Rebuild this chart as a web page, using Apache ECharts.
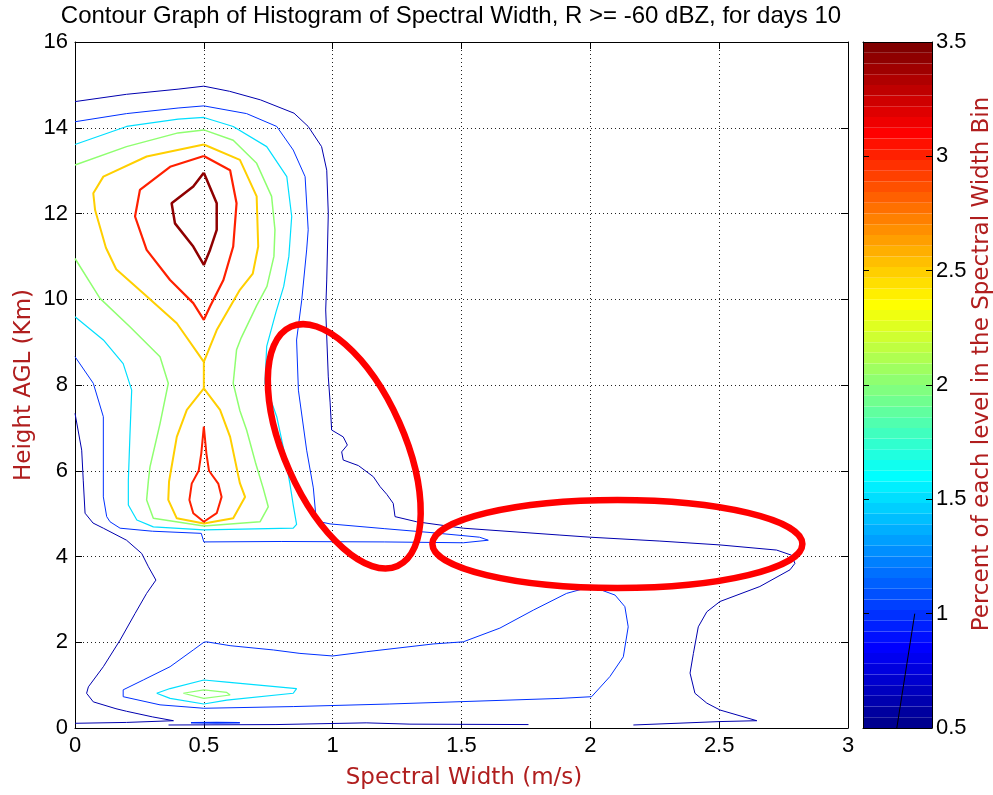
<!DOCTYPE html>
<html>
<head>
<meta charset="utf-8">
<script src="https://cdn.jsdelivr.net/npm/echarts@6/dist/echarts.min.js"></script>
<style>
  html, body { margin: 0; padding: 0; background: #ffffff; }
  #chart { width: 993px; height: 795px; }
</style>
</head>
<body>
<div id="chart"></div>
<script>
// Axis tick labels
const xTickLabels = ['0', '0.5', '1', '1.5', '2', '2.5', '3'];
const yTickLabels = ['0', '2', '4', '6', '8', '10', '12', '14', '16'];
const barTickLabels = ['0.5', '1', '1.5', '2', '2.5', '3', '3.5'];

// Contour levels (percent) drawn by the curves below
const contourLevels = [0.6, 1.0, 1.5, 2.0, 2.5, 3.0, 3.45];

// Contour paths as [spectral width (m/s), height (km)]
const navyUpper = [[0,14.61],[0.2,14.78],[0.4,14.9],[0.5,14.97],[0.6,14.85],[0.72,14.65],[0.85,14.34],[0.905,14.03],[0.957,13.56],[0.977,13.01],[0.983,12.0],[0.977,10.45],[0.973,9.75],[0.983,8.19],[0.99,7.6],[0.996,6.95],[1.003,6.91],[1.041,6.79],[1.057,6.6],[1.035,6.44],[1.041,6.25],[1.10,6.12],[1.158,5.86],[1.184,5.63],[1.21,5.45],[1.235,5.24],[1.242,4.93],[1.326,4.81],[1.507,4.66],[1.882,4.50],[2.0,4.45],[2.27,4.36],[2.503,4.27],[2.723,4.15],[2.781,4.03],[2.794,3.84],[2.775,3.69],[2.658,3.30],[2.503,2.95],[2.452,2.71],[2.419,2.36],[2.40,1.74],[2.387,1.28],[2.406,0.81],[2.452,0.58],[2.503,0.42],[2.646,0.17],[2.503,0.15],[2.167,0.07]];
const navyLower = [[0,7.34],[0.026,6.48],[0.032,5.78],[0.039,5.01],[0.07,4.78],[0.11,4.66],[0.20,4.38],[0.259,4.07],[0.285,3.76],[0.314,3.45],[0.278,3.14],[0.233,2.67],[0.175,2.05],[0.11,1.43],[0.052,0.96],[0.045,0.81],[0.071,0.61],[0.159,0.45],[0.20,0.39],[0.30,0.26],[0.382,0.17],[0.2,0.13],[0,0.11]];
const navyBase = [[0.363,0.07],[0.78,0.08],[1.13,0.12],[1.3,0.09],[1.76,0.08]];

const blueUpper = [[0,14.14],[0.2,14.33],[0.4,14.46],[0.5,14.51],[0.666,14.33],[0.783,14.03],[0.847,13.48],[0.893,12.86],[0.905,11.62],[0.899,11.15],[0.88,9.98],[0.860,9.05],[0.867,7.88],[0.899,6.48],[0.925,5.6],[0.935,4.93],[0.951,4.81],[0.99,4.76],[1.2,4.65],[1.378,4.56],[1.57,4.45],[1.604,4.38],[1.507,4.32],[1.2,4.34],[0.8,4.35],[0.5,4.34],[0.49,4.54],[0.3,4.59],[0.175,4.66],[0.136,4.81],[0.123,4.93],[0.11,5.39],[0.11,7.26],[0.071,8.04],[0,8.66]];
const blueLower = [[0.5,2.0],[0.511,2.01],[0.602,1.92],[0.77,1.82],[0.873,1.74],[1.0,1.68],[1.132,1.78],[1.39,1.96],[1.507,2.01],[1.649,2.33],[1.779,2.75],[1.908,3.14],[2.005,3.30],[2.096,3.10],[2.134,2.83],[2.147,2.36],[2.128,1.66],[2.076,1.20],[2.005,0.73],[1.882,0.69],[1.222,0.56],[0.847,0.50],[0.5,0.46],[0.33,0.54],[0.187,0.73],[0.187,0.89],[0.265,1.12],[0.369,1.43],[0.459,1.82],[0.5,2.0]];
const blueSliver = [[0.45,0.12],[0.55,0.13],[0.64,0.12],[0.55,0.115],[0.45,0.12]];

const cyanUpper = [[0,13.61],[0.2,14.03],[0.4,14.2],[0.5,14.24],[0.614,14.03],[0.744,13.56],[0.822,12.86],[0.841,11.93],[0.83,11.0],[0.81,10.3],[0.78,9.7],[0.744,8.9],[0.737,8.04],[0.783,7.26],[0.81,6.5],[0.834,5.70],[0.847,5.2],[0.86,4.75],[0.847,4.66],[0.5,4.62],[0.304,4.69],[0.24,4.85],[0.207,5.2],[0.207,5.78],[0.213,6.79],[0.22,7.88],[0.187,8.50],[0.11,9.05],[0,9.59]];
const cyanLower = [[0.317,0.81],[0.369,0.92],[0.5,1.12],[0.589,1.07],[0.86,0.92],[0.847,0.81],[0.589,0.65],[0.5,0.56],[0.369,0.69],[0.317,0.81]];

const greenUpper = [[0,13.13],[0.2,13.56],[0.4,13.88],[0.5,13.95],[0.614,13.71],[0.705,13.17],[0.763,12.40],[0.776,11.62],[0.772,11.0],[0.745,10.3],[0.705,9.85],[0.645,9.1],[0.627,8.82],[0.614,8.04],[0.64,7.4],[0.666,6.95],[0.70,6.2],[0.73,5.6],[0.75,5.16],[0.718,4.81],[0.5,4.71],[0.304,4.89],[0.278,5.32],[0.285,5.78],[0.291,6.09],[0.33,7.10],[0.362,8.04],[0.33,8.66],[0.213,9.36],[0.097,10.02],[0,10.95]];
const greenLower = [[0.42,0.81],[0.5,0.89],[0.589,0.83],[0.602,0.77],[0.5,0.69],[0.42,0.81]];

const orangeLoops = [[0.5,13.61],[0.64,13.25],[0.705,12.40],[0.711,11.23],[0.69,10.6],[0.64,10.22],[0.55,9.28],[0.5,8.54],[0.5,7.92],[0.563,7.42],[0.602,6.79],[0.64,5.71],[0.66,5.39],[0.614,4.89],[0.5,4.77],[0.395,4.89],[0.362,5.32],[0.365,5.75],[0.395,6.79],[0.434,7.42],[0.5,7.92],[0.5,8.54],[0.395,9.44],[0.265,10.14],[0.16,10.7],[0.12,11.2],[0.078,12.08],[0.071,12.47],[0.11,12.86],[0.278,13.33],[0.5,13.61]];

const redUpper = [[0.5,13.34],[0.602,13.01],[0.627,12.24],[0.614,11.23],[0.576,10.45],[0.524,9.83],[0.5,9.52],[0.459,9.91],[0.369,10.45],[0.278,11.15],[0.233,11.93],[0.252,12.55],[0.369,13.09],[0.5,13.34]];
const redLower = [[0.5,7.03],[0.51,6.4],[0.52,6.0],[0.556,5.7],[0.569,5.39],[0.55,5.01],[0.5,4.81],[0.459,5.01],[0.444,5.32],[0.453,5.7],[0.48,6.0],[0.49,6.4],[0.5,7.03]];

const darkRedCore = [[0.5,12.95],[0.55,12.24],[0.55,11.62],[0.524,11.15],[0.5,10.8],[0.459,11.23],[0.388,11.77],[0.375,12.24],[0.459,12.63],[0.5,12.95]];

// Stray stroke inside the colour bar: [bar fraction, percent]
const colorbarStroke = [[0.75, 1.0], [0.49, 0.5]];

// Highlighted regions: centre in data units
const highlightCenters = [[1.045, 6.57], [2.105, 4.29]];

// ---------------------------------------------------------------
const num = a => a.map(Number);
const xT = num(xTickLabels), yT = num(yTickLabels), bT = num(barTickLabels);

// MATLAB-style jet colormap
function jetColors(m) {
  const n = Math.ceil(m / 4);
  const u = [];
  for (let i = 1; i <= n; i++) u.push(i / n);
  for (let i = 1; i < n; i++) u.push(1);
  for (let i = n; i >= 1; i--) u.push(i / n);
  const g0 = Math.ceil(n / 2) - (m % 4 === 1 ? 1 : 0);
  const rgb = Array.from({ length: m }, () => [0, 0, 0]);
  u.forEach((v, k) => {
    const g = g0 + k + 1, r = g + n, b = g - n;
    if (r >= 1 && r <= m) rgb[r - 1][0] = v;
    if (g >= 1 && g <= m) rgb[g - 1][1] = v;
    if (b >= 1 && b <= m) rgb[b - 1][2] = v;
  });
  return rgb.map(c => 'rgb(' + c.map(v => Math.round(v * 255)).join(',') + ')');
}
const JET = jetColors(64);
const bMin = bT[0], bMax = bT[bT.length - 1];
const levelColor = lv => JET[Math.min(63, Math.max(0, Math.floor((lv - bMin) / (bMax - bMin) * 64)))];

const contours = [
  { path: navyUpper, level: 0, w: 1 },
  { path: navyLower, level: 0, w: 1 },
  { path: navyBase, level: 0, w: 1 },
  { path: blueUpper, level: 1, w: 1 },
  { path: blueLower, level: 1, w: 1 },
  { path: blueSliver, level: 1, w: 1.5 },
  { path: cyanUpper, level: 2, w: 1.2 },
  { path: cyanLower, level: 2, w: 1.2 },
  { path: greenUpper, level: 3, w: 1.5 },
  { path: greenLower, level: 3, w: 1.2 },
  { path: orangeLoops, level: 4, w: 2 },
  { path: redUpper, level: 5, w: 2.2 },
  { path: redLower, level: 5, w: 2 },
  { path: darkRedCore, level: 6, w: 2.5 }
];

const FONT = 'Liberation Sans, Arial, sans-serif';
const LABEL_FONT = 'DejaVu Sans, Verdana, sans-serif';
const LABEL_COLOR = '#b01e1e';

const tickLabel = { color: '#000', fontFamily: FONT, fontSize: 22 };
const noOnZero = { show: true, onZero: false, lineStyle: { color: '#000', width: 1 } };
const gridDots = { show: true, lineStyle: { color: '#222', width: 1, type: [1, 3] } };

const series = contours.map(c => ({
  type: 'line',
  xAxisIndex: 0,
  yAxisIndex: 1,
  data: c.path,
  symbol: 'none',
  showSymbol: false,
  smooth: false,
  silent: true,
  clip: true,
  animation: false,
  lineStyle: { color: levelColor(contourLevels[c.level]), width: c.w },
  z: 3
}));
series.push({
  type: 'line',
  xAxisIndex: 2,
  yAxisIndex: 3,
  data: colorbarStroke,
  symbol: 'none',
  silent: true,
  animation: false,
  lineStyle: { color: '#000', width: 1 },
  z: 5
});

const option = {
  animation: false,
  backgroundColor: '#ffffff',
  grid: [
    { left: 75, top: 42, width: 773, height: 686, containLabel: false, outerBoundsMode: 'none' },
    { left: 863, top: 42, width: 69, height: 686, containLabel: false, outerBoundsMode: 'none' }
  ],
  xAxis: [
    { gridIndex: 0, type: 'value', position: 'bottom', min: xT[0], max: xT[xT.length - 1], interval: xT[1] - xT[0],
      axisLine: noOnZero, axisTick: { show: true, inside: true, length: 7, lineStyle: { color: '#000' } },
      axisLabel: Object.assign({ margin: 7, formatter: v => xTickLabels[xT.indexOf(v)] ?? '' }, tickLabel),
      splitLine: gridDots },
    { gridIndex: 0, type: 'value', position: 'top', min: xT[0], max: xT[xT.length - 1], interval: xT[1] - xT[0],
      axisLine: noOnZero, axisTick: { show: true, inside: true, length: 7, lineStyle: { color: '#000' } },
      axisLabel: { show: false }, splitLine: { show: false } },
    { gridIndex: 1, type: 'value', position: 'bottom', min: 0, max: 1,
      axisLine: noOnZero, axisTick: { show: false }, axisLabel: { show: false }, splitLine: { show: false } },
    { gridIndex: 1, type: 'value', position: 'top', min: 0, max: 1,
      axisLine: noOnZero, axisTick: { show: false }, axisLabel: { show: false }, splitLine: { show: false } }
  ],
  yAxis: [
    // colour bands of the bar (64-step jet)
    { gridIndex: 1, type: 'value', position: 'left', min: 0, max: 64, interval: 1,
      axisLine: { show: false }, axisTick: { show: false }, axisLabel: { show: false },
      splitLine: { show: false }, splitArea: { show: true, areaStyle: { color: JET, opacity: 1 } } },
    { gridIndex: 0, type: 'value', position: 'left', min: yT[0], max: yT[yT.length - 1], interval: yT[1] - yT[0],
      axisLine: noOnZero, axisTick: { show: true, inside: true, length: 7, lineStyle: { color: '#000' } },
      axisLabel: Object.assign({ margin: 7, formatter: v => yTickLabels[yT.indexOf(v)] ?? '' }, tickLabel),
      splitLine: gridDots },
    { gridIndex: 0, type: 'value', position: 'right', min: yT[0], max: yT[yT.length - 1], interval: yT[1] - yT[0],
      axisLine: noOnZero, axisTick: { show: true, inside: true, length: 7, lineStyle: { color: '#000' } },
      axisLabel: { show: false }, splitLine: { show: false } },
    { gridIndex: 1, type: 'value', position: 'right', min: bMin, max: bMax, interval: bT[1] - bT[0],
      axisLine: noOnZero, axisTick: { show: true, inside: true, length: 6, lineStyle: { color: '#000' } },
      axisLabel: Object.assign({ margin: 4, formatter: v => barTickLabels[bT.indexOf(v)] ?? '' }, tickLabel),
      splitLine: { show: false } },
    { gridIndex: 1, type: 'value', position: 'left', min: bMin, max: bMax, interval: bT[1] - bT[0],
      axisLine: noOnZero, axisTick: { show: true, inside: true, length: 6, lineStyle: { color: '#000' } },
      axisLabel: { show: false }, splitLine: { show: false } }
  ],
  series: series
};

const chart = echarts.init(document.getElementById('chart'), null, { renderer: 'canvas' });
chart.setOption(option);

// Annotation ellipses and text, placed from the axes' own scales
const ellipseStyle = [
  { rx: 131, ry: 60, tiltDeg: 66 },
  { rx: 185, ry: 44, tiltDeg: 0 }
];
const graphics = highlightCenters.map((c, i) => {
  const p = chart.convertToPixel({ seriesIndex: 0 }, c);
  const s = ellipseStyle[i];
  return {
    type: 'ellipse', x: p[0], y: p[1], rotation: -s.tiltDeg * Math.PI / 180,
    shape: { cx: 0, cy: 0, rx: s.rx, ry: s.ry },
    style: { fill: null, stroke: '#ff0000', lineWidth: 6.5 },
    silent: true, z: 50
  };
});
graphics.push(
  { type: 'text', x: 451, y: 4, z: 60,
    style: { text: 'Contour Graph of Histogram of Spectral Width, R >= -60 dBZ, for days 10',
      fill: '#000', font: '24px ' + FONT, textAlign: 'center', textVerticalAlign: 'top' } },
  { type: 'text', x: 464, y: 778, z: 60,
    style: { text: 'Spectral Width (m/s)', fill: LABEL_COLOR, font: '23px ' + LABEL_FONT,
      textAlign: 'center', textVerticalAlign: 'middle' } },
  { type: 'text', x: 24, y: 385, rotation: Math.PI / 2, z: 60,
    style: { text: 'Height AGL (Km)', fill: LABEL_COLOR, font: '23px ' + LABEL_FONT,
      textAlign: 'center', textVerticalAlign: 'middle' } },
  { type: 'text', x: 982, y: 364, rotation: Math.PI / 2, z: 60,
    style: { text: 'Percent of each level in the Spectral Width Bin', fill: LABEL_COLOR, font: '23px ' + LABEL_FONT,
      textAlign: 'center', textVerticalAlign: 'middle' } }
);
chart.setOption({ graphic: graphics });
</script>
</body>
</html>
